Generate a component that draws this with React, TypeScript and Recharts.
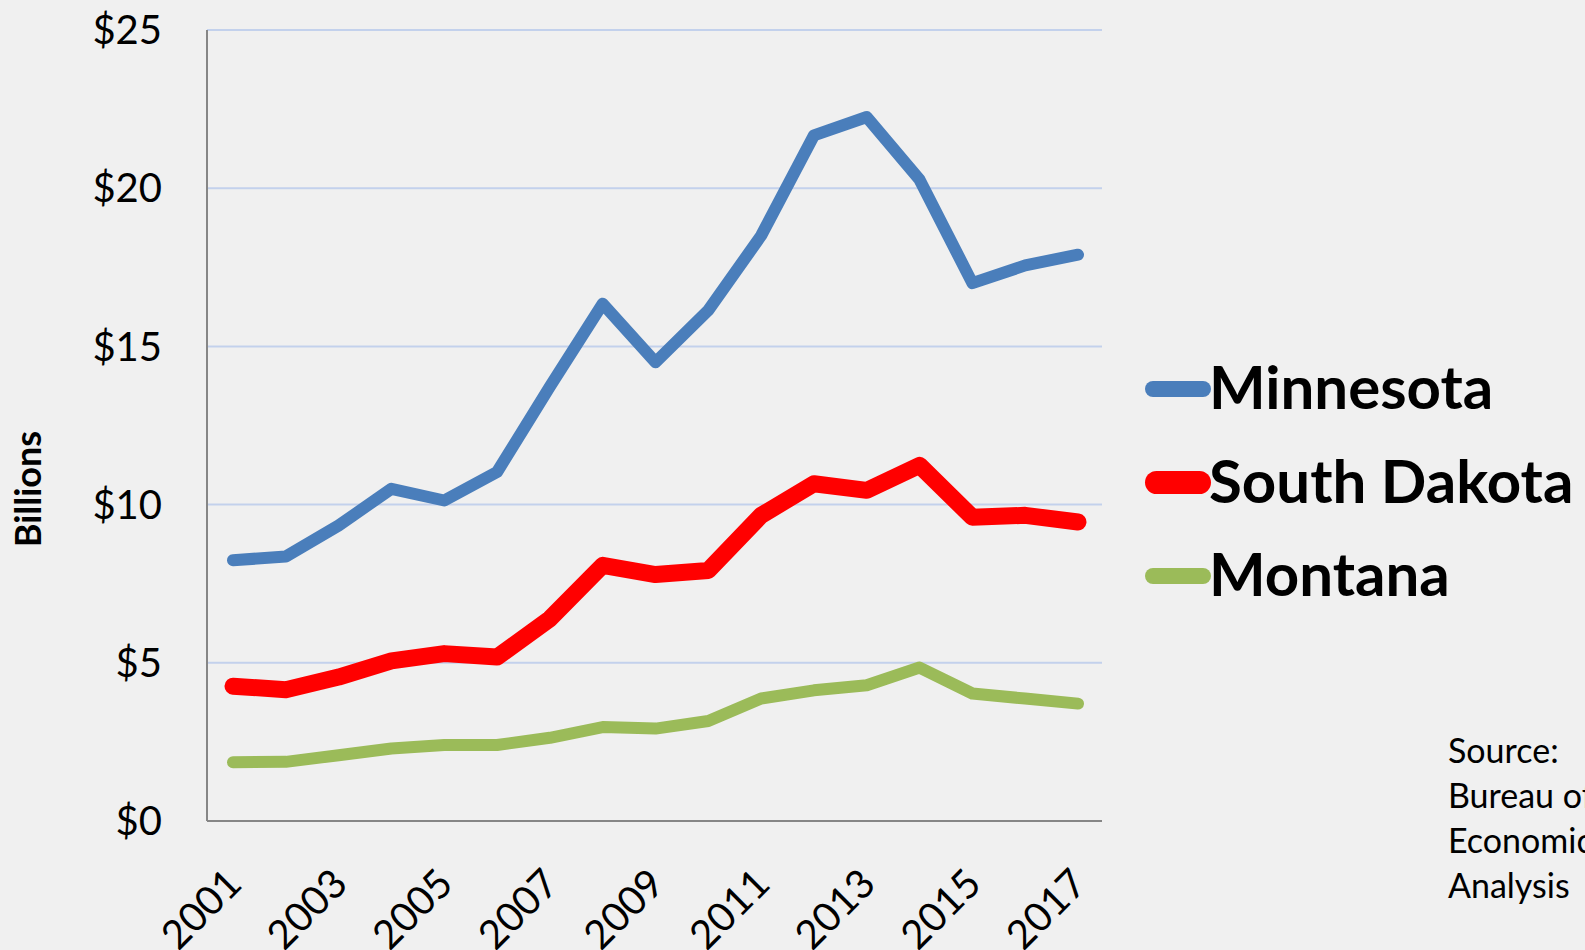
import { LineChart, Line, XAxis, YAxis, CartesianGrid } from 'recharts';

const YEARS = ['2001', '2002', '2003', '2004', '2005', '2006', '2007', '2008', '2009',
  '2010', '2011', '2012', '2013', '2014', '2015', '2016', '2017'];

// billions of dollars
const MINNESOTA = [8.24, 8.36, 9.34, 10.5, 10.13, 11.03, 13.73, 16.35, 14.5, 16.14, 18.5, 21.67, 22.25, 20.27, 17.0, 17.56, 17.9];
const SOUTH_DAKOTA = [4.26, 4.15, 4.55, 5.06, 5.29, 5.18, 6.39, 8.08, 7.79, 7.92, 9.66, 10.66, 10.45, 11.24, 9.6, 9.66, 9.45];
const MONTANA = [1.86, 1.87, 2.08, 2.29, 2.4, 2.4, 2.63, 2.97, 2.92, 3.16, 3.87, 4.13, 4.29, 4.85, 4.03, 3.87, 3.71];

const Y_TICKS = [0, 5, 10, 15, 20, 25];
const SOURCE_LINES = ['Source:', 'Bureau of', 'Economic', 'Analysis'];

const SERIES = [
  { key: 'Minnesota', color: '#4a7ebb', width: 12, legendWidth: 16 },
  { key: 'South Dakota', color: '#ff0000', width: 17, legendWidth: 23 },
  { key: 'Montana', color: '#9bbb59', width: 12, legendWidth: 16 },
];

const FONT = 'Lato, "Open Sans", sans-serif';

const data = YEARS.map((year, i) => ({
  year,
  Minnesota: MINNESOTA[i],
  'South Dakota': SOUTH_DAKOTA[i],
  Montana: MONTANA[i],
}));

const YearTick = ({ x, y, payload }: any) => {
  const tx = x + 11;
  const ty = y + 65;
  return (
    <text x={tx} y={ty} textAnchor="end" fontSize={40} fontFamily={FONT} fill="#000"
      transform={`rotate(-45, ${tx}, ${ty})`}>
      {payload.value}
    </text>
  );
};

export default function App() {
  return (
    <div style={{ position: 'absolute', left: 0, top: 0, width: 1585, height: 950, background: '#f0f0f0', overflow: 'hidden', fontFamily: FONT }}>
      <LineChart width={1585} height={950} data={data} margin={{ top: 30, right: 483, bottom: 0, left: 0 }}>
        <CartesianGrid vertical={false} stroke="#c3d1ec" strokeWidth={2} />
        <XAxis dataKey="year" interval={1} height={129} padding={{ left: 26, right: 24 }}
          tickLine={false} tickSize={0} tickMargin={0} axisLine={{ stroke: '#868686', strokeWidth: 2 }}
          tick={<YearTick />} />
        <YAxis domain={[0, 25]} ticks={Y_TICKS} width={207} tickLine={false} tickSize={0} tickMargin={45}
          axisLine={{ stroke: '#868686', strokeWidth: 2 }} tickFormatter={(v: number) => `$${v}`}
          tick={{ fontSize: 40, fill: '#000', fontFamily: FONT }} />
        {SERIES.map(s => (
          <Line key={s.key} type="linear" dataKey={s.key} stroke={s.color} strokeWidth={s.width}
            strokeLinecap="round" strokeLinejoin="round" dot={false} activeDot={false}
            isAnimationActive={false} />
        ))}
      </LineChart>
      <svg width={1585} height={950} style={{ position: 'absolute', left: 0, top: 0, pointerEvents: 'none' }}>
        <text x={0} y={0} transform="translate(41, 489) rotate(-90)" textAnchor="middle"
          fontSize={36} fontWeight="bold" fontFamily={FONT} fill="#000">Billions</text>
        {SERIES.map((s, i) => {
          const lineY = 389 + i * 93.5;
          return (
            <g key={s.key}>
              <line x1={1145 + s.legendWidth / 2} x2={1211 - s.legendWidth / 2} y1={lineY} y2={lineY}
                stroke={s.color} strokeWidth={s.legendWidth} strokeLinecap="round" />
              <text x={1209} y={lineY + 20} fontSize={60} fontWeight="bold" fontFamily={FONT} fill="#000">
                {s.key}
              </text>
            </g>
          );
        })}
        {SOURCE_LINES.map((line, i) => (
          <text key={line} x={1448} y={763 + i * 45} fontSize={34} fontFamily={FONT} fill="#000">{line}</text>
        ))}
      </svg>
    </div>
  );
}
